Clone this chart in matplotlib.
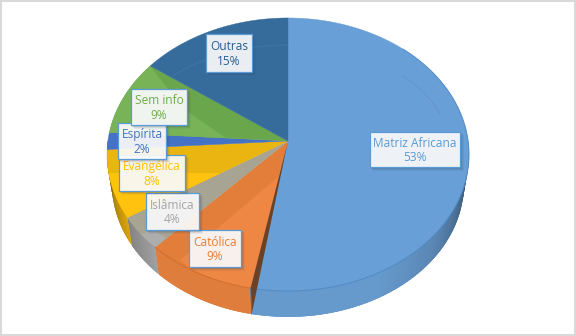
import numpy as np
import matplotlib
matplotlib.use('Agg')
import matplotlib.pyplot as plt
from matplotlib.colors import to_rgb
from matplotlib.patches import Polygon, Rectangle

plt.rcParams['font.family'] = ['Open Sans', 'DejaVu Sans']

categories = ['Matriz Africana', 'Católica', 'Islâmica', 'Evangélica', 'Espírita', 'Sem info', 'Outras']
values = [53, 9, 4, 8, 2, 9, 15]
top_colors = ['#689FD6', '#E27E39', '#A8A493', '#EAB510', '#4472C4', '#6AA64C', '#366C9C']
side_colors = ['#6699CC', '#DF7E3C', '#A0A0A0', '#D9A50C', '#3D66B0', '#5F9A42', '#2F5F8A']
text_colors = ['#5B9BD5', '#ED7D31', '#A5A5A5', '#FFC000', '#4472C4', '#70AD47', '#255E91']
# label boxes, pixels: left, top, right, bottom
label_boxes = [(370, 132, 460, 167), (189, 230, 241, 267), (146, 193, 199, 230),
               (119, 155, 185, 191), (118, 123, 166, 159), (131, 89, 187, 125), (206, 34, 252, 72)]

# lighter gloss areas on the top face: slice index, colour, outline in pixels
gloss = [
    (5, '#78B358', [(150, 66), (185, 110), (232, 142), (100, 160), (100, 60)]),
    (3, '#FFC20E', [(100, 173), (226, 173), (226, 235), (100, 235)]),
    (1, '#EE8744', [(277, 178), (180, 260), (230, 300), (277, 300)]),
    (2, '#ADADAD', [(133, 238), (153, 230), (170, 240), (160, 255), (140, 250)]),
]

apex_x, apex_y = 288, 141
k = 0.0989


def rim(frac, scale=1.0, drop=0.0):
    # perspective view of the pie circle, frac runs clockwise from the top
    a = 2 * np.pi * np.asarray(frac)
    u, v = np.sin(a), np.cos(a)
    d = 1 + k * v
    return apex_x + scale * 180.1 * u / d, apex_y + drop - scale * 135.2 * v / d


def wall_shade(i, f):
    # side wall gets darker towards the two ends of the visible front
    if i == 0:
        return np.interp(f, [0.25, 0.29, 0.36, 0.42], [0.52, 0.62, 0.88, 1.0])
    if i == 3:
        return np.interp(f, [0.66, 0.70, 0.74], [1.0, 0.8, 0.5])
    if i == 2:
        return np.interp(f, [0.62, 0.66], [1.0, 0.82])
    return 1.0


fig = plt.figure(figsize=(5.76, 3.36), dpi=100)
ax = fig.add_axes([0, 0, 1, 1])
ax.set_xlim(0, 576)
ax.set_ylim(336, 0)
ax.axis('off')

ax.add_patch(Rectangle((0.5, 0.5), 574.5, 334.5, fc='white', ec='#D9D9D9', lw=1.5))

edges = np.cumsum([0] + values) / sum(values)

# side wall, cut in thin strips that overlap so no seams show
for i in range(len(values)):
    lo, hi = max(edges[i], 0.25), min(edges[i + 1], 0.75)
    if hi <= lo:
        continue
    f = np.linspace(lo, hi, 60)
    x1, y1 = rim(f)
    x2, y2 = rim(f, 0.972, 30.1)
    for j in range(len(f) - 1):
        e = min(j + 3, len(f) - 1)
        c = np.array(to_rgb(side_colors[i])) * wall_shade(i, f[j])
        ax.add_patch(Polygon([(x1[j], y1[j]), (x1[e], y1[e]), (x2[e], y2[e]), (x2[j], y2[j])],
                             fc=c, ec='none'))

# top face
for i in range(len(values)):
    f = np.linspace(edges[i], edges[i + 1], 150)
    x1, y1 = rim(f)
    pts = np.column_stack([np.r_[apex_x, x1], np.r_[apex_y, y1]])
    wedge = Polygon(pts, fc=top_colors[i], ec=top_colors[i], lw=0.3)
    ax.add_patch(wedge)
    for idx, col, outline in gloss:
        if idx == i:
            shine = Polygon(outline, fc=col, ec='none')
            ax.add_patch(shine)
            shine.set_clip_path(wedge)

# darker line along the front edge of the top face
for i, col in [(0, '#4A86C0'), (1, '#C96A2B')]:
    f = np.linspace(max(edges[i], 0.12), edges[i + 1], 120)
    x1, y1 = rim(f)
    ax.plot(x1, y1, color=col, lw=0.7, alpha=0.8)

# faint ring on the top face
t = np.linspace(np.radians(225), np.radians(270), 80)
ax.plot(288 + 162 * np.cos(t), 150 + 105 * np.sin(t), color='#4A7FB0', lw=0.6, alpha=0.6)
t = np.linspace(np.radians(-45), np.radians(-20), 40)
ax.plot(288 + 162 * np.cos(t), 150 + 105 * np.sin(t), color='#5A90C6', lw=0.6, alpha=0.7)

# cut face between first and second slice
x1, y1 = rim(edges[1])
x2, y2 = rim(edges[1], 0.972, 30.1)
ax.add_patch(Polygon([(apex_x, apex_y), (x1, y1), (x2, y2)], fc='#6B4226', ec='none', zorder=3))
ax.plot([x1, x2], [y1, y2], color='#3F78B0', lw=0.6, zorder=3)

# labels, later ones lie over earlier ones
for n, (name, val, col, box) in enumerate(zip(categories, values, text_colors, label_boxes)):
    l, t, r, b = box
    z = 5 + n
    for off, a in [(3.5, 0.06), (2.5, 0.10), (1.5, 0.14)]:
        ax.add_patch(Rectangle((l + off - 1, t + off - 1), r - l + 1, b - t + 1, fc='#33415C', ec='none',
                               alpha=a, zorder=z))
    ax.add_patch(Rectangle((l, t), r - l, b - t, fc=(1, 1, 1, 0.9), ec='#5B9BD5', lw=0.9, zorder=z))
    ax.text((l + r) / 2, (t + b) / 2 + 1, f'{name}\n{val}%', color=col, fontsize=8.6,
            ha='center', va='center', linespacing=1.18, zorder=z)

fig.savefig('out.png', dpi=100)
